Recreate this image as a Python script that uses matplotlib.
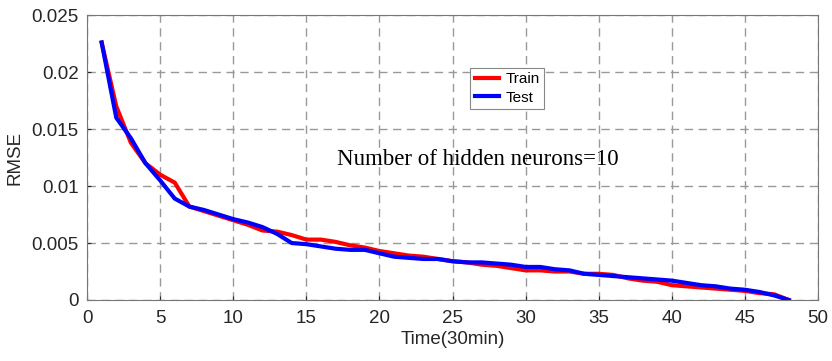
import numpy as np
import matplotlib.pyplot as plt

plt.rcParams['font.family'] = ['Liberation Sans', 'DejaVu Sans']

# data
time = list(range(1, 49))
train = [0.0226, 0.0170, 0.0138, 0.0120, 0.0110, 0.0103, 0.0082, 0.0078, 0.0074, 0.0070,
         0.0066, 0.0061, 0.0060, 0.0057, 0.0053, 0.0053, 0.0051, 0.0048, 0.0046, 0.0043,
         0.0041, 0.0039, 0.0038, 0.0036, 0.0034, 0.0033, 0.0031, 0.0030, 0.0028, 0.0026,
         0.0026, 0.0025, 0.0025, 0.0023, 0.0023, 0.0022, 0.0019, 0.0017, 0.0016, 0.0013,
         0.0012, 0.0011, 0.0010, 0.0009, 0.0008, 0.0006, 0.0005, 0.0000]
test = [0.0226, 0.0160, 0.0142, 0.0120, 0.0105, 0.0089, 0.0082, 0.0079, 0.0075, 0.0071,
        0.0068, 0.0064, 0.0058, 0.0050, 0.0049, 0.0047, 0.0045, 0.0044, 0.0044, 0.0041,
        0.0038, 0.0037, 0.0036, 0.0036, 0.0034, 0.0033, 0.0033, 0.0032, 0.0031, 0.0029,
        0.0029, 0.0027, 0.0026, 0.0023, 0.0022, 0.0021, 0.0020, 0.0019, 0.0018, 0.0017,
        0.0015, 0.0013, 0.0012, 0.0010, 0.0009, 0.0007, 0.0004, 0.0000]
xticks = [0, 5, 10, 15, 20, 25, 30, 35, 40, 45, 50]
yticks = [0, 0.005, 0.01, 0.015, 0.02, 0.025]
ylabels = ['0', '0.005', '0.01', '0.015', '0.02', '0.025']

fig = plt.figure(figsize=(8.32, 3.61), dpi=100)
ax = fig.add_axes([0.1046, 0.169, 0.8786, 0.789])

ax.plot(time, train, color='#ff0000', lw=3, label='Train')
ax.plot(time, test, color='#0000ff', lw=3, label='Test')

ax.set_xlim(0, 50)
ax.set_ylim(0, 0.025)
ax.set_xticks(xticks)
ax.set_yticks(yticks)
ax.set_yticklabels(ylabels)
ax.tick_params(direction='in', labelsize=13.5, length=3, colors='#262626')
ax.tick_params(axis='x', pad=7)
ax.tick_params(axis='y', pad=6)
ax.grid(True, ls=(0, (6, 4)), color='#999999', lw=1)
for s in ax.spines.values():
    s.set_color('#777777')

ax.set_xlabel('Time(30min)', fontsize=13.5, labelpad=3, color='#262626')
ax.set_ylabel('RMSE', fontsize=13.5, labelpad=6, color='#262626')

ax.text(26.7, 0.0123, 'Number of hidden neurons=10', family='Liberation Serif',
        fontsize=16.5, ha='center', va='center')

leg = ax.legend(loc='upper left', bbox_to_anchor=(0.524, 0.816), fontsize=11,
                fancybox=False, framealpha=1, edgecolor='#888888',
                handlelength=1.6, handletextpad=0.4, borderpad=0.3,
                labelspacing=0.3, borderaxespad=0)
leg.get_frame().set_linewidth(0.8)

fig.savefig('out.png', dpi=100)
